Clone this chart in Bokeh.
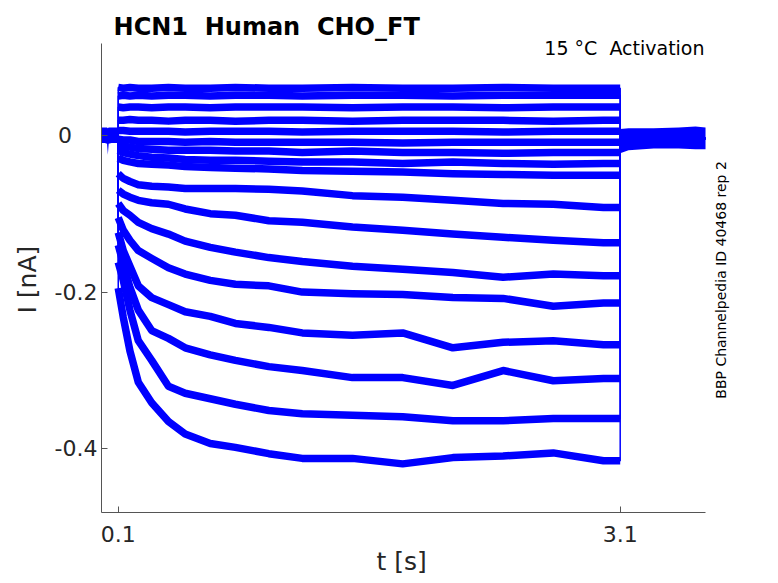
from math import pi
from bokeh.plotting import figure
from bokeh.models import Range1d, FixedTicker, Label, Title
from bokeh.embed import file_html
from bokeh.resources import INLINE

# ---- data (t in s, I in nA) ----
t_step = [0.10, 0.13, 0.17, 0.22, 0.30, 0.40, 0.50, 0.65, 0.80, 1.00,
          1.20, 1.50, 1.80, 2.10, 2.40, 2.70, 3.00, 3.10]

trace_01 = [-0.195, -0.232, -0.275, -0.315, -0.341, -0.365, -0.381, -0.393, -0.398, -0.406,
            -0.412, -0.412, -0.419, -0.411, -0.409, -0.405, -0.415, -0.415]
trace_02 = [-0.162, -0.185, -0.223, -0.262, -0.287, -0.320, -0.329, -0.336, -0.343, -0.351,
            -0.355, -0.357, -0.359, -0.364, -0.364, -0.361, -0.361, -0.361]
trace_03 = [-0.140, -0.163, -0.194, -0.223, -0.249, -0.259, -0.271, -0.280, -0.287, -0.295,
            -0.300, -0.309, -0.309, -0.319, -0.300, -0.313, -0.310, -0.310]
trace_04 = [-0.124, -0.147, -0.167, -0.192, -0.207, -0.216, -0.225, -0.231, -0.240, -0.245,
            -0.252, -0.255, -0.252, -0.271, -0.264, -0.262, -0.267, -0.267]
trace_05 = [-0.105, -0.121, -0.134, -0.147, -0.157, -0.169, -0.177, -0.185, -0.190, -0.192,
            -0.200, -0.202, -0.203, -0.207, -0.208, -0.218, -0.214, -0.214]
trace_06 = [-0.087, -0.096, -0.102, -0.111, -0.119, -0.126, -0.135, -0.143, -0.149, -0.156,
            -0.161, -0.167, -0.171, -0.175, -0.181, -0.177, -0.179, -0.179]
trace_07 = [-0.070, -0.075, -0.079, -0.083, -0.086, -0.088, -0.094, -0.100, -0.102, -0.109,
            -0.111, -0.117, -0.121, -0.126, -0.130, -0.134, -0.137, -0.137]
trace_08 = [-0.049, -0.055, -0.059, -0.063, -0.065, -0.066, -0.068, -0.068, -0.068, -0.069,
            -0.071, -0.077, -0.079, -0.083, -0.087, -0.088, -0.092, -0.092]
trace_09 = [-0.029, -0.032, -0.034, -0.036, -0.037, -0.038, -0.040, -0.041, -0.042, -0.043,
            -0.045, -0.046, -0.047, -0.049, -0.050, -0.051, -0.051, -0.051]
trace_10 = [-0.019, -0.022, -0.024, -0.026, -0.028, -0.029, -0.031, -0.032, -0.032, -0.033,
            -0.034, -0.034, -0.036, -0.034, -0.036, -0.037, -0.036, -0.036]
trace_11 = [-0.013, -0.014, -0.015, -0.017, -0.018, -0.019, -0.019, -0.019, -0.020, -0.020,
            -0.022, -0.020, -0.022, -0.022, -0.023, -0.022, -0.022, -0.022]
trace_12 = [-0.005, -0.006, -0.006, -0.008, -0.008, -0.008, -0.009, -0.008, -0.009, -0.009,
            -0.009, -0.009, -0.010, -0.009, -0.009, -0.009, -0.009, -0.009]
trace_13 = [0.006, 0.006, 0.005, 0.005, 0.005, 0.005, 0.004, 0.005, 0.005, 0.005,
            0.004, 0.005, 0.005, 0.005, 0.004, 0.005, 0.005, 0.005]
trace_14 = [0.019, 0.019, 0.020, 0.019, 0.019, 0.018, 0.019, 0.019, 0.018, 0.019,
            0.019, 0.018, 0.019, 0.019, 0.019, 0.018, 0.019, 0.019]
trace_15 = [0.036, 0.035, 0.036, 0.036, 0.035, 0.036, 0.036, 0.035, 0.036, 0.036,
            0.036, 0.035, 0.036, 0.036, 0.035, 0.036, 0.036, 0.036]
trace_16 = [0.050, 0.051, 0.050, 0.051, 0.050, 0.051, 0.051, 0.050, 0.051, 0.051,
            0.050, 0.051, 0.051, 0.050, 0.051, 0.051, 0.051, 0.051]
trace_17 = [0.061, 0.060, 0.061, 0.060, 0.060, 0.061, 0.060, 0.060, 0.061, 0.060,
            0.060, 0.061, 0.060, 0.060, 0.061, 0.060, 0.060, 0.060]

traces = [trace_01, trace_02, trace_03, trace_04, trace_05, trace_06, trace_07, trace_08,
          trace_09, trace_10, trace_11, trace_12, trace_13, trace_14, trace_15, trace_16, trace_17]

# holding current before / after the step, with the noise envelope
i_hold_before = 0.0
i_hold_after = -0.004
t_pre = [0.0, 0.02, 0.033, 0.038, 0.043, 0.06, 0.10]
pre_high = [0.010, 0.010, 0.010, 0.009, 0.010, 0.010, 0.010]
pre_low = [-0.010, -0.010, -0.011, -0.025, -0.011, -0.010, -0.010]
t_post = [3.10, 3.15, 3.30, 3.45, 3.55, 3.61]
post_high = [0.008, 0.009, 0.009, 0.010, 0.011, 0.010]
post_low = [-0.023, -0.019, -0.017, -0.017, -0.018, -0.018]

x_axis_span = (0.0, 3.61)
y_axis_span = (-0.481, 0.117)
x_ticks = [0.1, 3.1]
x_tick_labels = ["0.1", "3.1"]
y_ticks = [-0.4, -0.2, 0.0]
y_tick_labels = ["-0.4", "-0.2", "0\u2007\u2008\u2009"]

title_text = "HCN1\u00a0 Human\u00a0 CHO_FT"
subtitle_text = "15 °C\u00a0 Activation"
side_text = "BBP Channelpedia ID 40468 rep 2"
x_label = "t [s]"
y_label = "I [nA]"

BLUE = "#0000ff"
FONT = "DejaVu Sans"
TXT = "#262626"
AXC = "#555555"

# the frame reaches past the axes (to the top edge and to the right) so that the
# title and the side note, drawn as labels, stay inside it; the axis lines are bounded
p = figure(width=778, height=583, output_backend="svg", toolbar_location=None,
           x_range=Range1d(0.0, 3.819), y_range=Range1d(-0.481, 0.1718),
           min_border_left=101, min_border_right=38, min_border_top=0, min_border_bottom=71)
p.title.visible = False
p.grid.visible = False
p.outline_line_color = None
p.background_fill_color = "white"
p.border_fill_color = "white"

# noise envelopes of the holding segments
p.varea(x=t_pre, y1=pre_low, y2=pre_high, fill_color=BLUE)
p.varea(x=t_post, y1=post_low, y2=post_high, fill_color=BLUE)

for tr in traces:
    xs = [t_pre[0], t_step[0]] + t_step + [t_post[0], t_post[-1]]
    ys = [i_hold_before, i_hold_before] + tr + [i_hold_after, i_hold_after]
    p.line(xs, ys, line_color=BLUE, line_width=1.5)
for tr in traces:
    p.line(t_step, tr, line_color=BLUE, line_width=7.5, line_join="round")

for ax in (p.xaxis[0], p.yaxis[0]):
    ax.axis_line_color = AXC
    ax.major_tick_line_color = AXC
    ax.major_tick_in = 6
    ax.major_tick_out = 0
    ax.minor_tick_line_color = None
    ax.major_label_text_font = FONT
    ax.major_label_text_font_size = "22px"
    ax.major_label_text_color = TXT

p.xaxis.bounds = x_axis_span
p.yaxis.bounds = y_axis_span
p.xaxis.ticker = FixedTicker(ticks=x_ticks)
p.xaxis.major_label_overrides = dict(zip(x_ticks, x_tick_labels))
p.xaxis.major_label_standoff = 13
p.yaxis.ticker = FixedTicker(ticks=y_ticks)
p.yaxis.major_label_overrides = dict(zip(y_ticks, y_tick_labels))
p.yaxis.major_label_standoff = 4

# axis titles with explicit placement
p.add_layout(Title(text=x_label, align="left", offset=275, standoff=0, text_font=FONT,
                   text_font_size="25px", text_font_style="normal", text_color=TXT), "below")
p.add_layout(Title(text=y_label, align="left", offset=199, standoff=19, text_font=FONT,
                   text_font_size="25px", text_font_style="normal", text_color=TXT), "left")

p.add_layout(Label(x=0.072, y=0.1375, text=title_text, text_font=FONT, text_font_size="24px",
                   text_font_style="bold", text_color="black", text_baseline="alphabetic"))
p.add_layout(Label(x=3.604, y=0.1116, text=subtitle_text, text_font=FONT, text_font_size="19px",
                   text_color="black", text_align="right", text_baseline="alphabetic"))
p.add_layout(Label(x=3.700, y=-0.1845, text=side_text, text_font=FONT, text_font_size="14px",
                   text_color="black", text_align="center", text_baseline="alphabetic", angle=pi / 2))

open("out.html", "w").write(file_html(p, INLINE))
